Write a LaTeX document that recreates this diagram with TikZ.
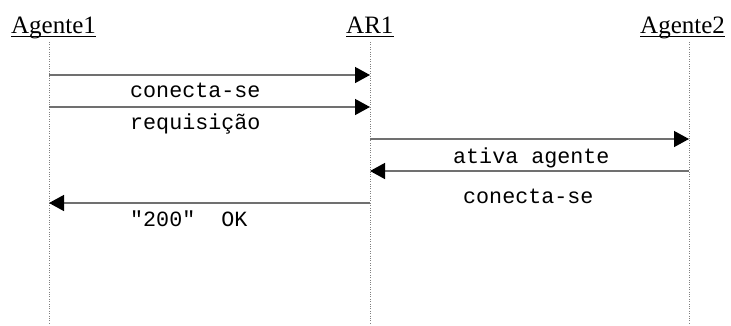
\documentclass[tikz,border=0pt]{standalone}
\usepackage{fontspec}
\setmainfont{Liberation Serif}
\setmonofont{Liberation Mono}
\usetikzlibrary{arrows.meta}
\usetikzlibrary{positioning}
\definecolor{msggray}{RGB}{112,112,112}

\begin{document}
\begin{tikzpicture}[x=1pt, y=-1pt,
    actor/.style={font=\fontsize{25}{25}\selectfont, anchor=base west, inner sep=0pt},
    life/.style={draw=gray, line width=0.6pt, dash pattern=on 0.8pt off 1.6pt},
    msg/.style={draw=msggray, line width=1.4pt, -{Triangle[length=15pt, width=16pt, color=black]}},
    txt/.style={font=\ttfamily\fontsize{21.7}{21.7}\selectfont, anchor=base west, inner sep=0pt}]
    \useasboundingbox (0,0) rectangle (731,325);
    % objetos
    \node[actor](ag1) at (11, 33.5){Agente1};
    \node[actor](ar1) at (346, 33.5){AR1};
    \node[actor](ag2) at (640, 33.5){Agente2};
    \foreach \n in {ag1, ar1, ag2}
        \draw[line width=0.8pt]([yshift=-2.5pt]\n.base west)--([yshift=-2.5pt]\n.base east);
    % linhas de vida
    \coordinate (t1) at (49, 42);  \coordinate (b1) at (49, 325);
    \coordinate (t2) at (370, 42); \coordinate (b2) at (370, 325);
    \coordinate (t3) at (689, 42); \coordinate (b3) at (689, 325);
    \draw[life](t1)--(b1);
    \draw[life](t2)--(b2);
    \draw[life](t3)--(b3);
    % mensagens
    \coordinate (m1) at (0, 75);
    \coordinate (m2) at (0, 107);
    \coordinate (m3) at (0, 139);
    \coordinate (m4) at (0, 171);
    \coordinate (m5) at (0, 203);
    \draw[msg](t1 |- m1)--(t2 |- m1);
    \draw[msg](t1 |- m2)--(t2 |- m2);
    \draw[msg](t2 |- m3)--(t3 |- m3);
    \draw[msg](t3 |- m4)--(t2 |- m4);
    \draw[msg](t2 |- m5)--(t1 |- m5);
    \node[txt](l1) at (130, 97.3){conecta-se};
    \node[txt](l2) at (130, 129.5){requisição};
    \node[txt](l3) at (453, 163){ativa agente};
    \node[txt](l4) at (463, 203){conecta-se};
    \node[txt](l5) at (130, 226.7){"200"\ \ OK};
\end{tikzpicture}
\end{document}
